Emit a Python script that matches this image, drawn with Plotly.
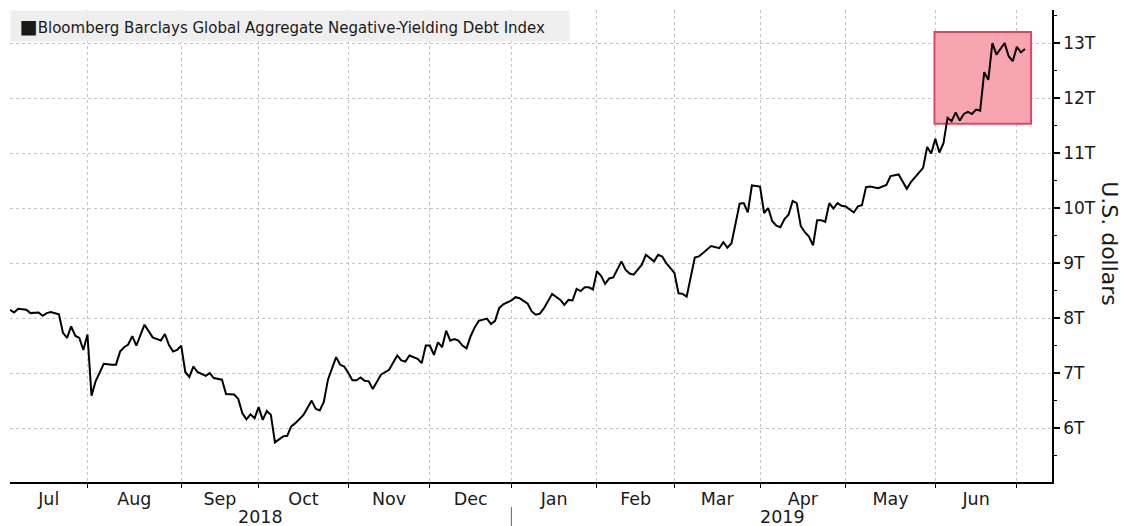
import numpy as np
import pandas as pd
import plotly.graph_objects as go

# ---- data (trading days) ----
dates = [
    "2018-07-05", "2018-07-06", "2018-07-09", "2018-07-11", "2018-07-12", "2018-07-16", "2018-07-17",
    "2018-07-18", "2018-07-19", "2018-07-23", "2018-07-24", "2018-07-25", "2018-07-26", "2018-07-27",
    "2018-07-30", "2018-07-31",
    "2018-08-01", "2018-08-02", "2018-08-03", "2018-08-07", "2018-08-09", "2018-08-10", "2018-08-13",
    "2018-08-14", "2018-08-15", "2018-08-16", "2018-08-17", "2018-08-21", "2018-08-23", "2018-08-27",
    "2018-08-28", "2018-08-29", "2018-08-30", "2018-08-31",
    "2018-09-04", "2018-09-05", "2018-09-06", "2018-09-07", "2018-09-10", "2018-09-12", "2018-09-13",
    "2018-09-14", "2018-09-18", "2018-09-19", "2018-09-21", "2018-09-24", "2018-09-25", "2018-09-26",
    "2018-09-27", "2018-09-28",
    "2018-10-01", "2018-10-02", "2018-10-03", "2018-10-04", "2018-10-05", "2018-10-10", "2018-10-11",
    "2018-10-12", "2018-10-15", "2018-10-17", "2018-10-19", "2018-10-22", "2018-10-23", "2018-10-24",
    "2018-10-25", "2018-10-29", "2018-10-30", "2018-10-31",
    "2018-11-01", "2018-11-02", "2018-11-05", "2018-11-06", "2018-11-07", "2018-11-08", "2018-11-09",
    "2018-11-13", "2018-11-14", "2018-11-16", "2018-11-20", "2018-11-21", "2018-11-23", "2018-11-26",
    "2018-11-28", "2018-11-29", "2018-11-30",
    "2018-12-03", "2018-12-04", "2018-12-05", "2018-12-06", "2018-12-07", "2018-12-10", "2018-12-11",
    "2018-12-12", "2018-12-13", "2018-12-14", "2018-12-17", "2018-12-18", "2018-12-19", "2018-12-21",
    "2018-12-24", "2018-12-26", "2018-12-27", "2018-12-28",
    "2019-01-02", "2019-01-03", "2019-01-04", "2019-01-08", "2019-01-09", "2019-01-10", "2019-01-11",
    "2019-01-14", "2019-01-16", "2019-01-18", "2019-01-22", "2019-01-23", "2019-01-24", "2019-01-25",
    "2019-01-28", "2019-01-29", "2019-01-30", "2019-01-31",
    "2019-02-01", "2019-02-04", "2019-02-05", "2019-02-06", "2019-02-07", "2019-02-11", "2019-02-12",
    "2019-02-13", "2019-02-14", "2019-02-15", "2019-02-19", "2019-02-20", "2019-02-22", "2019-02-25",
    "2019-02-26", "2019-02-27",
    "2019-03-01", "2019-03-04", "2019-03-05", "2019-03-06", "2019-03-08", "2019-03-11", "2019-03-12",
    "2019-03-13", "2019-03-14", "2019-03-18", "2019-03-19", "2019-03-20", "2019-03-21", "2019-03-25",
    "2019-03-26", "2019-03-27", "2019-03-28",
    "2019-04-01", "2019-04-02", "2019-04-03", "2019-04-04", "2019-04-05", "2019-04-08", "2019-04-09",
    "2019-04-10", "2019-04-11", "2019-04-12", "2019-04-15", "2019-04-16", "2019-04-17", "2019-04-18",
    "2019-04-22", "2019-04-23", "2019-04-24", "2019-04-25", "2019-04-26", "2019-04-29", "2019-04-30",
    "2019-05-01", "2019-05-03", "2019-05-06", "2019-05-07", "2019-05-08", "2019-05-09", "2019-05-13",
    "2019-05-15", "2019-05-16", "2019-05-20", "2019-05-21", "2019-05-22", "2019-05-23", "2019-05-28",
    "2019-05-29", "2019-05-30", "2019-05-31",
    "2019-06-03", "2019-06-04", "2019-06-05", "2019-06-06", "2019-06-07", "2019-06-10", "2019-06-11",
    "2019-06-12", "2019-06-13", "2019-06-14", "2019-06-17", "2019-06-18", "2019-06-19", "2019-06-20",
    "2019-06-21", "2019-06-24", "2019-06-26", "2019-06-27", "2019-06-28",
    "2019-07-01", "2019-07-02", "2019-07-03",
]

debt_trillions = [
    8.15, 8.10, 8.17, 8.15, 8.09, 8.10, 8.04,
    8.09, 8.11, 8.07, 7.73, 7.64, 7.85, 7.68,
    7.64, 7.42,
    7.70, 6.59, 6.85, 7.17, 7.15, 7.15, 7.39,
    7.47, 7.52, 7.67, 7.50, 7.88, 7.65, 7.59,
    7.71, 7.51, 7.39, 7.42,
    7.50, 7.02, 6.93, 7.12, 7.02, 6.95, 7.00,
    6.91, 6.88, 6.62, 6.61, 6.53, 6.27, 6.16,
    6.25, 6.18,
    6.38, 6.15, 6.31, 6.24, 5.74, 5.85, 5.86,
    6.03, 6.09, 6.24, 6.50, 6.35, 6.32, 6.48,
    6.88, 7.29, 7.15, 7.12,
    7.00, 6.87, 6.87, 6.92, 6.86, 6.85, 6.71,
    6.85, 6.97, 7.06, 7.32, 7.23, 7.21, 7.32,
    7.26, 7.18, 7.50,
    7.50, 7.33, 7.56, 7.47, 7.77, 7.59, 7.62,
    7.59, 7.50, 7.45, 7.67, 7.83, 7.95, 7.99,
    7.89, 7.95, 8.18, 8.25,
    8.32, 8.38, 8.36, 8.26, 8.12, 8.06, 8.08,
    8.18, 8.44, 8.33, 8.24, 8.33, 8.32, 8.53,
    8.49, 8.56, 8.56, 8.52,
    8.85, 8.77, 8.62, 8.72, 8.74, 9.03, 8.88,
    8.81, 8.79, 8.89, 8.97, 9.15, 9.03, 9.15,
    9.12, 9.00,
    8.82, 8.45, 8.44, 8.39, 9.10, 9.12, 9.18,
    9.24, 9.31, 9.27, 9.38, 9.28, 9.36, 10.08,
    10.09, 9.92, 10.41,
    10.39, 9.91, 10.00, 9.76, 9.68, 9.65, 9.80,
    9.88, 10.13, 10.09, 9.67, 9.56, 9.48, 9.32,
    9.78, 9.78, 9.75, 10.09, 9.99, 10.09, 10.04,
    10.03, 9.92, 10.03, 10.05, 10.38, 10.39, 10.36,
    10.42, 10.58, 10.61, 10.48, 10.35, 10.47, 10.64,
    10.73, 11.11, 10.99,
    11.26, 11.01, 11.18, 11.64, 11.58, 11.74, 11.59,
    11.71, 11.75, 11.71, 11.79, 11.77, 12.47, 12.33,
    13.00, 12.79, 13.00, 12.76, 12.67,
    12.93, 12.83, 12.89,
]

# US bond-market holidays (no trading, removed from the axis)
holidays = [
    "2018-07-04", "2018-09-03", "2018-10-08", "2018-11-12", "2018-11-22", "2018-12-25",
    "2019-01-01", "2019-01-21", "2019-02-18", "2019-04-19", "2019-05-27", "2019-07-04",
]

series_name = "Bloomberg Barclays Global Aggregate Negative-Yielding Debt Index"
month_labels = ["Jul", "Aug", "Sep", "Oct", "Nov", "Dec", "Jan", "Feb", "Mar", "Apr", "May", "Jun"]
month_starts = ["2018-07-01", "2018-08-01", "2018-09-01", "2018-10-01", "2018-11-01", "2018-12-01",
                "2019-01-01", "2019-02-01", "2019-03-01", "2019-04-01", "2019-05-01", "2019-06-01",
                "2019-07-01"]
year_labels = ["2018", "2019"]
year_starts = ["2018-07-01", "2019-01-01", "2019-07-13"]
y_title = "U.S. dollars"

# highlighted region (dates / values)
box_x = ["2019-05-31 19:00", "2019-07-05 12:00"]
box_y = [11.53, 13.2]

x_range = ["2018-07-05", "2019-07-12 15:00"]

FONT = "DejaVu Sans"
TXT = "#1a1a1a"
GRID = "#c4c4c4"

hol = np.array(holidays, dtype="datetime64[D]")
first_day = np.datetime64(x_range[0][:10])


def trading_mid(start, end):
    """Date halfway (in trading days) between two period bounds."""
    s = max(np.datetime64(start), first_day)
    s = np.busday_offset(s, 0, roll="forward", holidays=hol)
    e = np.busday_offset(np.datetime64(end), 0, roll="forward", holidays=hol)
    n = np.busday_count(s, e, holidays=hol)
    k = int(n // 2)
    frac = n / 2 - k
    d = np.busday_offset(s, k, holidays=hol)
    return (pd.Timestamp(d) + pd.Timedelta(hours=24 * frac)).strftime("%Y-%m-%d %H:%M")


month_centers = [trading_mid(month_starts[i], month_starts[i + 1]) for i in range(len(month_labels))]
year_centers = [trading_mid(year_starts[i], year_starts[i + 1]) for i in range(len(year_labels))]

fig = go.Figure()
fig.add_trace(go.Scatter(
    x=dates, y=debt_trillions, mode="lines",
    line=dict(color="black", width=2),
    showlegend=False, name=series_name,
))

fig.add_shape(
    type="rect", xref="x", yref="y",
    x0=box_x[0], x1=box_x[1], y0=box_y[0], y1=box_y[1],
    fillcolor="#f7a6b1", line=dict(color="#dc4862", width=2),
    layer="between",
)

# legend-like box
fig.add_annotation(
    xref="paper", yref="paper", x=0, y=1, xanchor="left", yanchor="top",
    text="&nbsp;<span style='font-size:19px'>■</span>" + series_name,
    showarrow=False, align="left", bgcolor="#efefef",
    width=550, height=22, borderpad=4,
    font=dict(family=FONT, size=15, color=TXT),
)

# year labels
for lab, xp in zip(year_labels, year_centers):
    fig.add_annotation(
        xref="x", yref="paper", x=xp, y=-0.074, yanchor="middle", xanchor="center",
        text=lab, showarrow=False,
        font=dict(family=FONT, size=17.5, color=TXT),
    )

# year divider
fig.add_shape(
    type="line", xref="x", yref="paper",
    x0=year_starts[1], x1=year_starts[1], y0=-0.053, y1=-0.1,
    line=dict(color="#666666", width=1),
)

# y-axis title (reads top to bottom)
fig.add_annotation(
    xref="paper", yref="paper", x=1.0557, y=0.506, xanchor="center", yanchor="middle",
    text=y_title, textangle=90, showarrow=False,
    font=dict(family=FONT, size=22, color=TXT),
)

fig.update_layout(
    width=1123, height=526,
    margin=dict(l=10, r=71, t=10, b=44),
    paper_bgcolor="white", plot_bgcolor="white",
    font=dict(family=FONT, color=TXT),
    showlegend=False,
    xaxis=dict(
        type="date",
        range=x_range,
        rangebreaks=[dict(bounds=["sat", "mon"]), dict(values=holidays)],
        tickmode="array", tickvals=month_centers, ticktext=month_labels,
        ticks="", showgrid=False,
        minor=dict(tickmode="linear", tick0="2018-07-01", dtick="M1",
                   ticks="outside", ticklen=4, tickcolor="black", tickwidth=1,
                   showgrid=True, gridcolor=GRID, griddash="dot", gridwidth=1),
        showline=True, linecolor="black", linewidth=1.5,
        tickfont=dict(family=FONT, size=17.5, color=TXT),
        zeroline=False,
    ),
    yaxis=dict(
        side="right",
        range=[5.02, 13.6],
        tick0=0, dtick=1, ticksuffix="T",
        showgrid=True, gridcolor=GRID, griddash="dot", gridwidth=1,
        showline=True, linecolor="black", linewidth=1.5,
        ticks="outside", ticklen=6, tickwidth=2, tickcolor="black",
        minor=dict(dtick=0.5, ticks="outside", ticklen=3, tickcolor="black", tickwidth=1, showgrid=False),
        tickfont=dict(family=FONT, size=17, color=TXT),
        zeroline=False,
    ),
)

fig.write_html("out.html")
